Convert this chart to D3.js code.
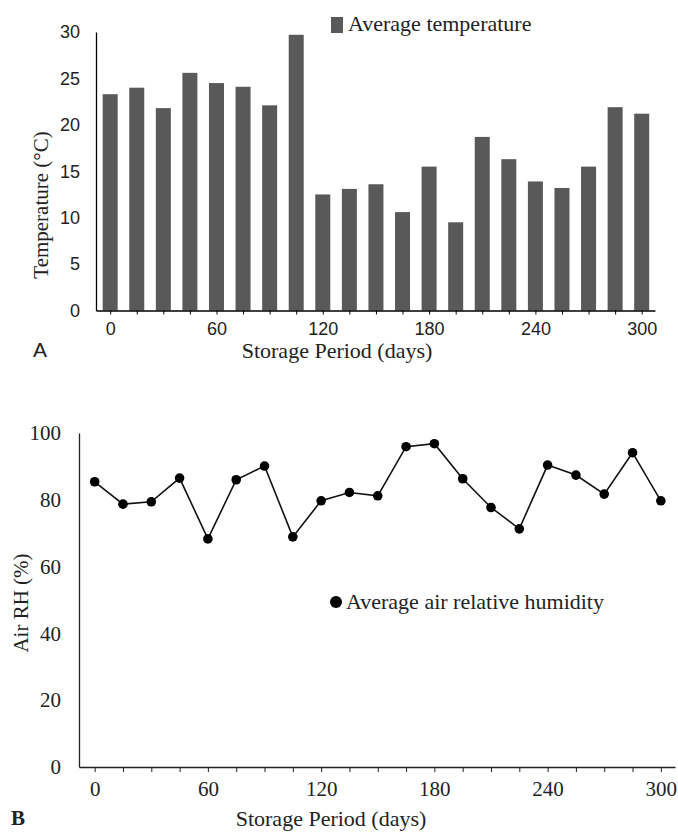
<!DOCTYPE html>
<html><head><meta charset="utf-8">
<script src="https://cdn.jsdelivr.net/npm/d3@7"></script>
<style>body{margin:0;background:#fff}svg{display:block}</style>
</head><body>
<svg id="c" width="678" height="833"></svg>
<script>
const days = [0,15,30,45,60,75,90,105,120,135,150,165,180,195,210,225,240,255,270,285,300];
const temperature = [23.3,24.0,21.8,25.6,24.5,24.1,22.1,29.7,12.5,13.1,13.6,10.6,15.5,9.5,18.7,16.3,13.9,13.2,15.5,21.9,21.2];
const humidity = [85.4,78.7,79.4,86.5,68.3,86.0,90.1,68.9,79.7,82.2,81.2,95.9,96.8,86.3,77.7,71.3,90.4,87.4,81.7,94.1,79.7];
const xTickLabels = [0,60,120,180,240,300];
const tempTicks = [0,5,10,15,20,25,30];
const rhTicks = [0,20,40,60,80,100];

const svg = d3.select("#c");
const sans = "Liberation Sans, Arial, sans-serif";
const serif = "Liberation Serif, Times New Roman, serif";

// ---------- Panel A ----------
const xA = d3.scaleLinear().domain([-8,307.5]).range([96,655]);
const yA = d3.scaleLinear().domain([0,30]).range([310.5,32]);
const gA = svg.append("g");

gA.selectAll("rect.bar").data(days).join("rect")
  .attr("x", (d)=>xA(d)-7.5).attr("width",15)
  .attr("y",(d,i)=>yA(temperature[i])).attr("height",(d,i)=>yA(0)-yA(temperature[i]))
  .attr("fill","#595959");

const axA = gA.append("g").attr("transform",`translate(0,${yA(0)})`)
  .call(d3.axisBottom(xA).tickValues(days).tickSize(4).tickSizeOuter(0)
    .tickFormat(d=>xTickLabels.includes(d)?d:""));
axA.select(".domain").attr("stroke","#000").attr("stroke-width",1.3);
axA.selectAll(".tick line").attr("stroke","#000");
axA.selectAll(".tick text").attr("font-family",sans).attr("font-size",18).attr("fill","#222").attr("dy","0.95em");

const ayA = gA.append("g").attr("transform",`translate(${xA.range()[0]},0)`)
  .call(d3.axisLeft(yA).tickValues(tempTicks).tickSize(0).tickSizeOuter(0).tickPadding(16));
ayA.select(".domain").attr("stroke","#000").attr("stroke-width",1.3);
ayA.selectAll(".tick text").attr("font-family",sans).attr("font-size",18).attr("fill","#222");

gA.append("text").attr("transform","translate(48,205) rotate(-90)").attr("text-anchor","middle")
  .attr("font-family",serif).attr("font-size",21).attr("fill","#222").text("Temperature (°C)");
gA.append("text").attr("x",337).attr("y",358).attr("text-anchor","middle")
  .attr("font-family",serif).attr("font-size",22).attr("fill","#222").text("Storage Period (days)");
gA.append("text").attr("x",33).attr("y",357)
  .attr("font-family",sans).attr("font-size",21).attr("fill","#222").text("A");
gA.append("rect").attr("x",331).attr("y",17).attr("width",12).attr("height",16).attr("fill","#595959");
gA.append("text").attr("x",348).attr("y",31)
  .attr("font-family",serif).attr("font-size",22).attr("fill","#222").text("Average temperature");

// ---------- Panel B ----------
const xB = d3.scaleLinear().domain([-8.3,307.5]).range([79,675]);
const yB = d3.scaleLinear().domain([0,100]).range([767,433]);
const gB = svg.append("g");

const axB = gB.append("g").attr("transform",`translate(0,${yB(0)})`)
  .call(d3.axisBottom(xB).tickValues(days).tickSize(5).tickSizeOuter(0)
    .tickFormat(d=>xTickLabels.includes(d)?d:""));
axB.select(".domain").attr("stroke","#222").attr("stroke-width",1.3);
axB.selectAll(".tick line").attr("stroke","#222");
axB.selectAll(".tick text").attr("font-family",serif).attr("font-size",21).attr("fill","#222").attr("dy","1.0em");

const ayB = gB.append("g").attr("transform",`translate(${xB.range()[0]},0)`)
  .call(d3.axisLeft(yB).tickValues(rhTicks).tickSize(0).tickSizeOuter(0).tickPadding(18));
ayB.select(".domain").attr("stroke","#222").attr("stroke-width",1.3);
ayB.selectAll(".tick text").attr("font-family",serif).attr("font-size",21).attr("fill","#222");

const line = d3.line().x((d,i)=>xB(days[i])).y(d=>yB(d));
gB.append("path").datum(humidity).attr("d",line).attr("fill","none").attr("stroke","#111").attr("stroke-width",1.6);
gB.selectAll("circle.pt").data(humidity).join("circle")
  .attr("cx",(d,i)=>xB(days[i])).attr("cy",d=>yB(d)).attr("r",4.8).attr("fill","#000");

gB.append("text").attr("transform","translate(28,603) rotate(-90)").attr("text-anchor","middle")
  .attr("font-family",serif).attr("font-size",21).attr("fill","#222").text("Air RH (%)");
gB.append("text").attr("x",331).attr("y",826).attr("text-anchor","middle")
  .attr("font-family",serif).attr("font-size",22).attr("fill","#222").text("Storage Period (days)");
gB.append("text").attr("x",11).attr("y",825)
  .attr("font-family",serif).attr("font-size",21).attr("font-weight","bold").attr("fill","#222").text("B");
gB.append("circle").attr("cx",336).attr("cy",602).attr("r",6).attr("fill","#000");
gB.append("text").attr("x",346).attr("y",609)
  .attr("font-family",serif).attr("font-size",22).attr("fill","#222").text("Average air relative humidity");
</script>
</body></html>
